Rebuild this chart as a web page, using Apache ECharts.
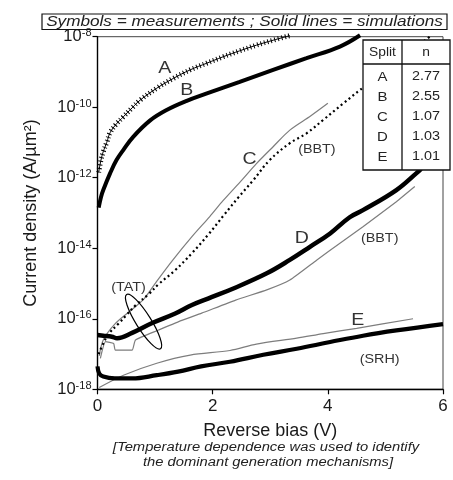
<!DOCTYPE html>
<html>
<head>
<meta charset="utf-8">
<script src="https://cdn.jsdelivr.net/npm/echarts@6/dist/echarts.min.js"></script>
<style>
  html, body { margin: 0; padding: 0; background: #fff; }
  #chart { width: 453px; height: 480px; }
</style>
</head>
<body>
<div id="chart"></div>
<script>
// Reverse bias (V) vs log10 of current density (A/µm²), one list per split.
// Measured curves
const measA = [[0.02,-11.85],[0.06,-11.5],[0.10,-11.26],[0.16,-11.0],[0.22,-10.72],[0.33,-10.47],[0.45,-10.27],[0.60,-10.02],[0.74,-9.80],[1.03,-9.46],[1.32,-9.18],[1.61,-8.94],[1.90,-8.75],[2.18,-8.57],[2.47,-8.40],[2.76,-8.24],[3.05,-8.10],[3.34,-7.97]];
const measB = [[0.02,-12.85],[0.06,-12.55],[0.10,-12.35],[0.22,-11.87],[0.33,-11.5],[0.45,-11.21],[0.62,-10.84],[0.91,-10.38],[1.20,-10.08],[1.55,-9.82],[1.90,-9.61],[2.47,-9.28],[3.05,-8.94],[3.63,-8.61],[4.21,-8.28],[4.56,-7.96]];
const measC = [[0.02,-17.0],[0.10,-16.7],[0.20,-16.42],[0.37,-16.13],[0.50,-15.9],[0.66,-15.62],[0.89,-15.3],[1.06,-15.02],[1.35,-14.62],[1.64,-14.14],[1.93,-13.6],[2.20,-13.05],[2.45,-12.55],[2.70,-12.08],[2.99,-11.5],[3.34,-11.02],[3.63,-10.74],[3.92,-10.36],[4.27,-9.89],[4.56,-9.51],[5.77,-8.0]];
const measD = [[0.0,-16.46],[0.10,-16.48],[0.25,-16.51],[0.34,-16.55],[0.60,-16.4],[0.95,-16.12],[1.35,-15.85],[1.64,-15.61],[1.93,-15.42],[2.36,-15.14],[2.94,-14.71],[3.34,-14.33],[3.69,-13.96],[4.04,-13.58],[4.38,-13.12],[4.61,-12.92],[5.19,-12.35],[5.54,-11.87],[5.62,-11.75]];
const measE = [[0.0,-17.35],[0.03,-17.55],[0.10,-17.64],[0.30,-17.69],[0.60,-17.69],[1.03,-17.6],[1.40,-17.5],[1.80,-17.35],[2.30,-17.22],[2.88,-17.02],[3.46,-16.85],[4.04,-16.66],[4.61,-16.48],[5.19,-16.33],[6.0,-16.15]];

// Simulated curves
const simC = [[0.03,-17.05],[0.10,-16.6],[0.30,-16.15],[0.55,-15.8],[0.80,-15.45],[1.00,-15.0],[1.30,-14.35],[1.64,-13.67],[1.95,-13.1],[2.18,-12.65],[2.51,-12.06],[2.76,-11.6],[3.05,-11.12],[3.34,-10.65],[3.70,-10.25],[4.00,-9.89]];
const simD = [[0.05,-17.12],[0.14,-16.65],[0.28,-16.70],[0.31,-16.89],[0.60,-16.89],[0.66,-16.60],[1.06,-16.32],[1.41,-16.08],[1.81,-15.84],[2.40,-15.47],[2.94,-15.18],[3.34,-14.90],[3.81,-14.33],[4.21,-13.86],[4.61,-13.39],[5.19,-12.68],[5.51,-12.25]];
const simE = [[0.03,-17.95],[0.45,-17.6],[1.03,-17.26],[1.61,-17.03],[2.30,-16.9],[2.76,-16.72],[3.46,-16.55],[3.92,-16.42],[4.50,-16.27],[5.48,-16.0]];

// Ideality factor per split
const splits = ['A', 'B', 'C', 'D', 'E'];
const idealityN = ['2.77', '2.55', '1.07', '1.03', '1.01'];

// Axis ticks
const biasTicks = [0, 2, 4, 6];
const decadeTicks = [-18, -16, -14, -12, -10, -8];

// Curve annotations: text and the (bias, log10 J) point it sits at
const curveNotes = [
  { text: 'A', at: [1.17, -8.89], size: 17 },
  { text: 'B', at: [1.55, -9.51], size: 17 },
  { text: 'C', at: [2.64, -11.48], size: 17 },
  { text: '(BBT)', at: [3.81, -11.21], size: 12.5 },
  { text: 'D', at: [3.55, -13.72], size: 17 },
  { text: '(BBT)', at: [4.90, -13.72], size: 12.5 },
  { text: '(TAT)', at: [0.54, -15.11], size: 12.5 },
  { text: 'E', at: [4.52, -16.03], size: 17 },
  { text: '(SRH)', at: [4.90, -17.17], size: 12.5 }
];
const tatLoopCenter = [0.80, -16.08];

const FONT = '"Liberation Sans", Arial, Helvetica, sans-serif';
const INK = '#1a1a1a';
const SIM_GREY = '#7d7d7d';

const chart = echarts.init(document.getElementById('chart'), null, { renderer: 'canvas' });

function measured(name, data, width) {
  return {
    name, type: 'line', data, showSymbol: false, smooth: 0.4, z: 4, clip: false,
    lineStyle: { color: '#000', width, cap: 'butt' }
  };
}
function simulated(name, data, smooth) {
  return {
    name, type: 'line', data, showSymbol: false, smooth, z: 3,
    lineStyle: { color: SIM_GREY, width: 1.2 }
  };
}

chart.setOption({
  animation: false,
  backgroundColor: '#fff',
  grid: { left: 97.5, right: 10, top: 36.7, bottom: 90.7, show: true, borderColor: '#444', borderWidth: 1 },
  xAxis: {
    type: 'value', min: biasTicks[0], max: biasTicks[biasTicks.length - 1], interval: 2,
    axisLine: { lineStyle: { color: '#000', width: 1.4 } },
    axisTick: { length: 5, lineStyle: { color: '#000', width: 1.2 } },
    splitLine: { show: false },
    axisLabel: { fontSize: 17, color: INK, margin: 9, fontFamily: FONT },
    name: 'Reverse bias (V)', nameLocation: 'middle', nameGap: 33,
    nameTextStyle: { fontSize: 18, color: INK, fontFamily: FONT }
  },
  yAxis: {
    type: 'value', min: decadeTicks[0], max: decadeTicks[decadeTicks.length - 1], interval: 2,
    axisLine: { lineStyle: { color: '#000', width: 1.4 } },
    axisTick: { length: 5, lineStyle: { color: '#000', width: 1.2 } },
    splitLine: { show: false },
    axisLabel: {
      margin: 6, fontFamily: FONT,
      formatter: v => '{b|10}{s|' + v + '}',
      rich: {
        b: { fontSize: 16.5, color: INK, fontFamily: FONT },
        s: { fontSize: 11, color: INK, fontFamily: FONT, padding: [0, 0, 7, 0] }
      }
    },
    name: 'Current density (A/µm²)', nameLocation: 'middle', nameGap: 57, nameRotate: 90,
    nameTextStyle: { fontSize: 18, color: INK, fontFamily: FONT }
  },
  series: [
    simulated('C sim', simC, 0.3),
    simulated('D sim', simD, 0.15),
    simulated('E sim', simE, 0.3),
    // A: crosses drawn as a thin trace with short perpendicular bars
    {
      name: 'A', type: 'line', data: measA, showSymbol: false, smooth: 0.4, z: 4, clip: false,
      lineStyle: { color: '#000', width: 1 }
    },
    {
      name: 'A bars', type: 'line', data: measA, showSymbol: false, smooth: 0.4, z: 4, clip: false,
      lineStyle: { color: '#000', width: 5, type: [1, 2.6], cap: 'butt' }
    },
    measured('B', measB, 4),
    {
      name: 'C', type: 'line', data: measC, showSymbol: false, smooth: 0.4, z: 4,
      lineStyle: { color: '#000', width: 2.2, type: [2, 3], cap: 'butt' }
    },
    measured('D', measD, 4.5),
    measured('E', measE, 4.2)
  ]
});

// Annotations, banner, table and caption
const g = [];
curveNotes.forEach(n => {
  const p = chart.convertToPixel({ gridIndex: 0 }, n.at);
  g.push({
    type: 'text', x: p[0], y: p[1], scaleX: 1.15, z: 10,
    style: { text: n.text, fontSize: n.size, fontFamily: FONT, fill: '#333', align: 'center', verticalAlign: 'middle' }
  });
});
const lc = chart.convertToPixel({ gridIndex: 0 }, tatLoopCenter);
g.push({
  type: 'ellipse', x: lc[0], y: lc[1], rotation: -58 * Math.PI / 180, z: 9,
  shape: { cx: 0, cy: 0, rx: 32, ry: 7.5 },
  style: { fill: 'none', stroke: '#000', lineWidth: 1.2 }
});

// Top banner
g.push({
  type: 'rect', z: 10, shape: { x: 42, y: 14, width: 405, height: 15.5 },
  style: { fill: 'none', stroke: '#111', lineWidth: 1.2 }
});
g.push({
  type: 'text', x: 244.5, y: 22, scaleX: 1.2, z: 11,
  style: { text: 'Symbols = measurements ; Solid lines = simulations', fontSize: 14.3, fontStyle: 'italic',
           fontFamily: FONT, fill: '#222', align: 'center', verticalAlign: 'middle' }
});

// Ideality table
const tx = 363, ty = 40, tw = 87, th = 130, colX = 402, headH = 24;
g.push({ type: 'rect', z: 10, shape: { x: tx, y: ty, width: tw, height: th },
         style: { fill: '#fff', stroke: '#111', lineWidth: 1.3 } });
g.push({ type: 'line', z: 11, shape: { x1: colX, y1: ty, x2: colX, y2: ty + th },
         style: { stroke: '#111', lineWidth: 1.3 } });
g.push({ type: 'line', z: 11, shape: { x1: tx, y1: ty + headH, x2: tx + tw, y2: ty + headH },
         style: { stroke: '#111', lineWidth: 1.3 } });
g.push({ type: 'text', x: (tx + colX) / 2, y: ty + 12.5, scaleX: 1.15, z: 11,
         style: { text: 'Split', fontSize: 12, fontFamily: FONT, fill: '#222', align: 'center', verticalAlign: 'middle' } });
g.push({ type: 'text', x: (colX + tx + tw) / 2, y: ty + 12.5, scaleX: 1.15, z: 11,
         style: { text: 'n', fontSize: 12, fontFamily: FONT, fill: '#222', align: 'center', verticalAlign: 'middle' } });
splits.forEach((s, i) => {
  const yy = ty + 37 + i * 20;
  g.push({ type: 'text', x: (tx + colX) / 2, y: yy, scaleX: 1.15, z: 11,
           style: { text: s, fontSize: 13, fontFamily: FONT, fill: '#222', align: 'center', verticalAlign: 'middle' } });
  g.push({ type: 'text', x: (colX + tx + tw) / 2, y: yy, scaleX: 1.15, z: 11,
           style: { text: idealityN[i], fontSize: 12.5, fontFamily: FONT, fill: '#222', align: 'center', verticalAlign: 'middle' } });
});

// Caption under the axis title
g.push({ type: 'text', x: 266, y: 448, scaleX: 1.2, z: 11,
         style: { text: '[Temperature dependence was used to identify', fontSize: 12.3, fontStyle: 'italic',
                  fontFamily: FONT, fill: '#222', align: 'center', verticalAlign: 'middle' } });
g.push({ type: 'text', x: 268, y: 463, scaleX: 1.2, z: 11,
         style: { text: 'the dominant generation mechanisms]', fontSize: 12.3, fontStyle: 'italic',
                  fontFamily: FONT, fill: '#222', align: 'center', verticalAlign: 'middle' } });

chart.setOption({ graphic: g });
</script>
</body>
</html>
